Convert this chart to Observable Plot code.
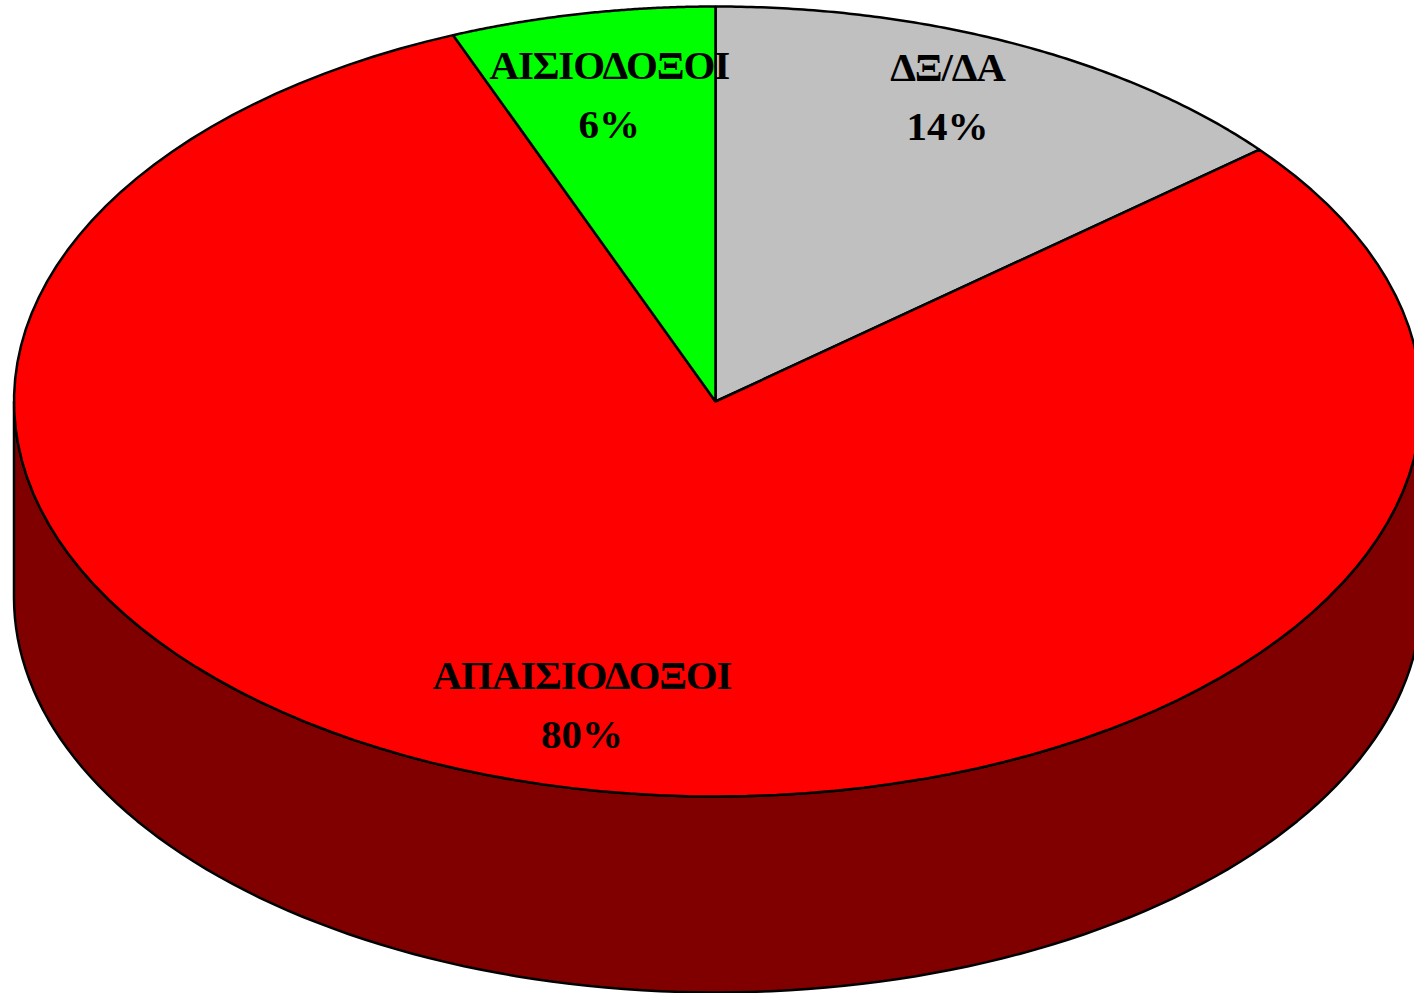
<!DOCTYPE html>
<html>
<head>
<meta charset="utf-8">
<script src="https://cdn.jsdelivr.net/npm/d3@7"></script>
<script src="https://cdn.jsdelivr.net/npm/@observablehq/plot@0.6"></script>
<style>
html,body{margin:0;padding:0;background:#fff;overflow:hidden}
svg{display:block}
</style>
</head>
<body>
<div id="chart"></div>
<script>
const categories = ["ΔΞ/ΔΑ", "ΑΠΑΙΣΙΟΔΟΞΟΙ", "ΑΙΣΙΟΔΟΞΟΙ"];
const shares = [14, 79.9, 6.1];
const sliceColors = ["#c0c0c0", "#ff0000", "#00ff00"];
const sideColor = "#800000";

// Pie geometry, in unit-circle space (the x and y scales map it to pixels)
const depth = 0.496;
const tau = Math.PI * 2;
const total = d3.sum(shares);
const rim = (from, to, drop = 0) =>
  d3.range(0, 121).map(i => {
    const a = from + (to - from) * i / 120;
    return {x: Math.sin(a), y: Math.cos(a) - drop};
  });

let running = 0;
const slices = shares.map((v, i) => {
  const from = running / total * tau;
  running += v;
  const to = running / total * tau;
  return {name: categories[i], value: v, color: sliceColors[i], from, to};
});

const sidePts = [...rim(tau / 4, tau * 3 / 4), ...rim(tau * 3 / 4, tau / 4, depth)];
const slicePts = s => [{x: 0, y: 0}, ...rim(s.from, s.to), {x: 0, y: 0}];

// Label placement relative to each slice: radial distance and angular nudge
const labelRadius = [0.83, 0.801, 0.78];
const labelNudge = [-0.031, -0.01, -0.002];
const labels = slices.map((s, i) => {
  const a = (s.from + s.to) / 2 + labelNudge[i];
  return {x: labelRadius[i] * Math.sin(a), y: labelRadius[i] * Math.cos(a),
          name: s.name, pct: `${Math.round(s.value)}%`};
});

const textStyle = {
  x: "x", y: "y",
  fontFamily: "Liberation Serif", fontWeight: "bold", fontSize: 41,
  fill: "#000"
};

const chart = Plot.plot({
  width: 1414,
  height: 993,
  margin: 0,
  style: {background: "#fff"},
  x: {type: "linear", domain: [-1, 0, 1], range: [13.5, 715, 1421], axis: null},
  y: {type: "linear", domain: [-1, 1], range: [796, 6], axis: null},
  marks: [
    Plot.line(sidePts, {x: "x", y: "y", fill: sideColor, stroke: "#000", strokeWidth: 2.5, curve: "linear-closed"}),
    ...slices.map(s =>
      Plot.line(slicePts(s), {x: "x", y: "y", fill: s.color, stroke: "#000", strokeWidth: 2.5, curve: "linear-closed", strokeLinejoin: "miter"})
    ),
    Plot.text(labels, {
      ...textStyle, text: "name", dx: -1, dy: -33,
      render(index, scales, values, dimensions, context, next) {
        const g = next(index, scales, values, dimensions, context);
        g.style.letterSpacing = "-1.15px";
        return g;
      }
    }),
    Plot.text(labels, {...textStyle, text: "pct", dx: -1, dy: 26})
  ]
});
document.getElementById("chart").append(chart);
</script>
</body>
</html>
